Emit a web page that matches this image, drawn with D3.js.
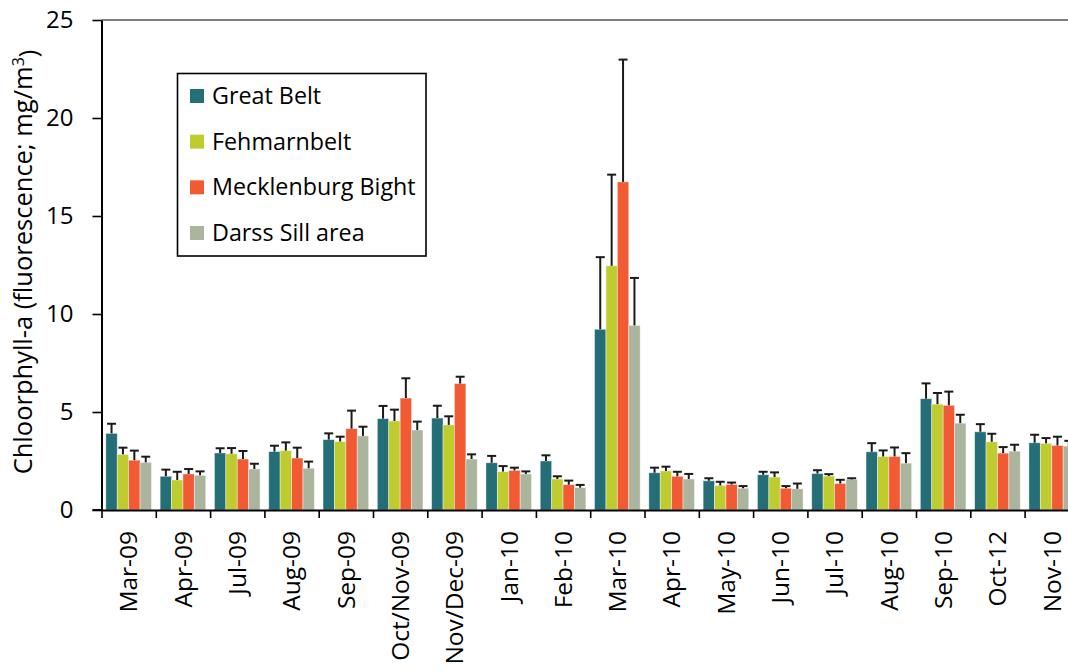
<!DOCTYPE html>
<html>
<head>
<meta charset="utf-8">
<script src="https://cdn.jsdelivr.net/npm/d3@7"></script>
<style>
  body { margin: 0; background: white; }
  svg { display: block; font-family: "Open Sans", "Noto Sans", sans-serif; }
</style>
</head>
<body>
<svg id="chart"></svg>
<script>
//sampling periods
const categories = ["Mar-09", "Apr-09", "Jul-09", "Aug-09", "Sep-09", "Oct/Nov-09", "Nov/Dec-09",
    "Jan-10", "Feb-10", "Mar-10", "Apr-10", "May-10", "Jun-10", "Jul-10", "Aug-10", "Sep-10", "Oct-12", "Nov-10"];

const seriesNames = ["Great Belt", "Fehmarnbelt", "Mecklenburg Bight", "Darss Sill area"];

//mean chlorophyll-a per area (mg/m3)
const greatBelt = [3.91, 1.72, 2.91, 2.98, 3.59, 4.66, 4.69, 2.41, 2.50, 9.22, 1.90, 1.49, 1.80, 1.86, 2.97, 5.68, 3.99, 3.43];
const fehmarnbelt = [2.84, 1.53, 2.87, 3.03, 3.49, 4.54, 4.34, 1.96, 1.58, 12.46, 1.99, 1.25, 1.68, 1.73, 2.73, 5.40, 3.48, 3.40];
const mecklenburg = [2.54, 1.84, 2.60, 2.65, 4.15, 5.71, 6.45, 2.02, 1.29, 16.74, 1.72, 1.30, 1.11, 1.35, 2.73, 5.34, 2.90, 3.29];
const darssSill = [2.43, 1.77, 2.09, 2.13, 3.78, 4.08, 2.60, 1.84, 1.14, 9.42, 1.58, 1.11, 1.08, 1.56, 2.39, 4.43, 3.00, 3.26];

//error (upper bar length)
const greatBeltErr = [0.49, 0.34, 0.24, 0.30, 0.32, 0.65, 0.63, 0.35, 0.29, 3.68, 0.26, 0.13, 0.15, 0.17, 0.44, 0.78, 0.39, 0.41];
const fehmarnbeltErr = [0.34, 0.42, 0.29, 0.42, 0.25, 0.58, 0.44, 0.28, 0.14, 4.65, 0.22, 0.19, 0.24, 0.10, 0.31, 0.57, 0.41, 0.27];
const mecklenburgErr = [0.49, 0.25, 0.41, 0.53, 0.92, 1.01, 0.35, 0.14, 0.21, 6.24, 0.23, 0.10, 0.11, 0.19, 0.46, 0.70, 0.31, 0.45];
const darssSillErr = [0.29, 0.20, 0.27, 0.34, 0.47, 0.43, 0.24, 0.13, 0.14, 2.42, 0.26, 0.11, 0.27, 0.06, 0.51, 0.43, 0.33, 0.27];

const yTicks = [0, 5, 10, 15, 20, 25];

const colors = ["#236e77", "#bfcc30", "#f15a32", "#abb59d"];

const values = [greatBelt, fehmarnbelt, mecklenburg, darssSill];
const errors = [greatBeltErr, fehmarnbeltErr, mecklenburgErr, darssSillErr];

const width = 1068;
const height = 671;
const FONT = '"Open Sans", "Noto Sans", sans-serif';

//plot area (runs past the right edge, like the original)
const plotLeft = 101.5;
const step = 54.3;
const plotRight = plotLeft + step * categories.length;
const plotTop = 20;
const plotBottom = 510;

const svg = d3.select("#chart")
    .attr("width", width)
    .attr("height", height);

const x = d3.scaleBand()
    .domain(categories)
    .range([plotLeft, plotRight])
    .paddingInner(0.16)
    .paddingOuter(0.08);

const xSub = d3.scaleBand()
    .domain(d3.range(seriesNames.length))
    .range([0, x.bandwidth()]);

const y = d3.scaleLinear()
    .domain([0, 25])
    .range([plotBottom, plotTop]);

//flatten into bar records
const bars = [];
categories.forEach((c, i) => {
    seriesNames.forEach((s, k) => {
        bars.push({ cat: c, series: k, value: values[k][i], err: errors[k][i] });
    });
});

//top border line
svg.append("line")
    .attr("x1", plotLeft).attr("x2", width)
    .attr("y1", y(25)).attr("y2", y(25))
    .attr("stroke", "#555")
    .attr("stroke-width", 1.6);

//bars
svg.append("g")
    .selectAll("rect")
    .data(bars)
    .join("rect")
    .attr("x", d => x(d.cat) + xSub(d.series))
    .attr("y", d => y(d.value))
    .attr("width", xSub.bandwidth())
    .attr("height", d => y(0) - y(d.value))
    .attr("fill", d => colors[d.series])
    .attr("stroke", "rgba(255,255,255,0.5)")
    .attr("stroke-width", 0.8);

//error bars (upper only)
const eb = svg.append("g")
    .attr("stroke", "#1a1a1a")
    .attr("stroke-width", 2);

eb.selectAll("line.stem")
    .data(bars)
    .join("line")
    .attr("class", "stem")
    .attr("x1", d => x(d.cat) + xSub(d.series) + xSub.bandwidth() / 2)
    .attr("x2", d => x(d.cat) + xSub(d.series) + xSub.bandwidth() / 2)
    .attr("y1", d => y(d.value))
    .attr("y2", d => y(d.value + d.err));

eb.selectAll("line.cap")
    .data(bars)
    .join("line")
    .attr("class", "cap")
    .attr("x1", d => x(d.cat) + xSub(d.series) + xSub.bandwidth() / 2 - 4.5)
    .attr("x2", d => x(d.cat) + xSub(d.series) + xSub.bandwidth() / 2 + 4.5)
    .attr("y1", d => y(d.value + d.err))
    .attr("y2", d => y(d.value + d.err));

//y axis
const yAxis = svg.append("g")
    .attr("transform", `translate(${plotLeft},0)`)
    .call(d3.axisLeft(y)
        .tickValues(yTicks)
        .tickSizeInner(9)
        .tickSizeOuter(0)
        .tickPadding(19))
    .attr("font-family", FONT);
yAxis.select(".domain").attr("stroke", "#000").attr("stroke-width", 2);
yAxis.selectAll(".tick line").attr("stroke", "#000").attr("stroke-width", 1.6);
yAxis.selectAll("text")
    .style("font-size", "24px")
    .style("fill", "#000");

//x axis: boundary ticks between categories
const xEdge = d3.scaleLinear()
    .domain([0, categories.length])
    .range([plotLeft, plotRight]);

const xAxisTicks = svg.append("g")
    .attr("transform", `translate(0,${plotBottom})`)
    .call(d3.axisBottom(xEdge)
        .tickValues(d3.range(0, categories.length + 1))
        .tickFormat("")
        .tickSizeInner(8)
        .tickSizeOuter(0));
xAxisTicks.select(".domain").attr("stroke", "#000").attr("stroke-width", 2);
xAxisTicks.selectAll(".tick line").attr("stroke", "#000").attr("stroke-width", 1.6);

//extend axis line slightly left of y axis
svg.append("line")
    .attr("x1", plotLeft - 9).attr("x2", plotLeft)
    .attr("y1", plotBottom).attr("y2", plotBottom)
    .attr("stroke", "#000").attr("stroke-width", 2);

//x axis labels (rotated)
const xAxisLabels = svg.append("g")
    .attr("transform", `translate(0,${plotBottom})`)
    .call(d3.axisBottom(x).tickSize(0).tickPadding(0))
    .attr("font-family", FONT);
xAxisLabels.select(".domain").remove();
xAxisLabels.selectAll("text")
    .attr("transform", "rotate(-90)")
    .attr("x", -21)
    .attr("y", 0)
    .attr("dy", "0.36em")
    .attr("text-anchor", "end")
    .style("font-size", "24.5px")
    .style("fill", "#000");

//y axis title
svg.append("text")
    .attr("transform", `translate(32,${(plotTop + plotBottom) / 2 - 3}) rotate(-90)`)
    .attr("text-anchor", "middle")
    .style("font-size", "25.5px")
    .style("fill", "#000")
    .text("Chloorphyll-a (fluorescence; mg/m")
    .append("tspan")
    .attr("dy", "-0.5em")
    .style("font-size", "16px")
    .text("3")
    .append("tspan")
    .attr("dy", "0.5em")
    .style("font-size", "25.5px")
    .text(")");

//legend
const legend = svg.append("g");
legend.append("rect")
    .attr("x", 177.5).attr("y", 73.5)
    .attr("width", 248.5).attr("height", 182.5)
    .attr("fill", "white")
    .attr("stroke", "#000")
    .attr("stroke-width", 1.6);

const rowY = d3.scalePoint()
    .domain(seriesNames)
    .range([96, 233]);

const items = legend.selectAll("g.item")
    .data(seriesNames)
    .join("g")
    .attr("class", "item")
    .attr("transform", d => `translate(190,${rowY(d)})`);

items.append("rect")
    .attr("x", 0).attr("y", -7)
    .attr("width", 14).attr("height", 14)
    .attr("fill", (d, i) => colors[i]);

items.append("text")
    .attr("x", 22)
    .attr("dy", "0.35em")
    .style("font-size", "23.3px")
    .style("fill", "#000")
    .text(d => d);
</script>
</body>
</html>
